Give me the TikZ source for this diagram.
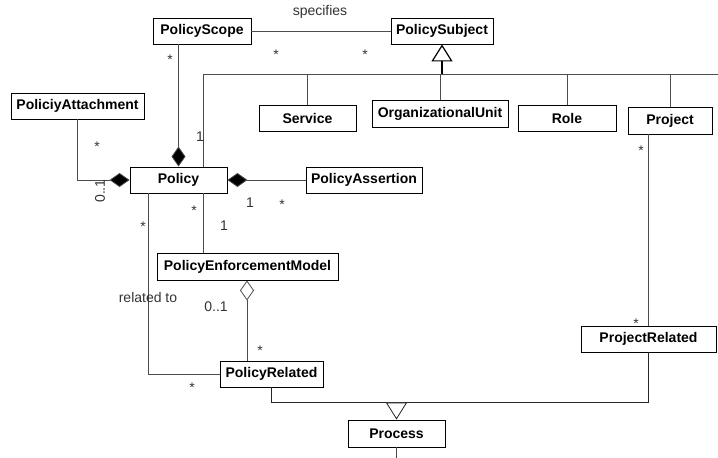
\documentclass[tikz,border=0pt]{standalone}
\usepackage{fontspec}
\setmainfont{Liberation Sans}
\usetikzlibrary{arrows.meta}
\begin{document}
\begin{tikzpicture}[x=1pt,y=-1pt,
  cls/.style={draw=black, line width=0.9pt, rectangle, inner sep=0pt, font=\fontsize{14}{16}\selectfont\bfseries},
  ln/.style={draw=black!70, line width=0.8pt},
  lbl/.style={inner sep=0pt, font=\fontsize{14}{16}\selectfont, text=black!80},
  star/.style={lbl, yshift=-3pt},
  comp/.style={-{Diamond[length=20pt,width=14pt,fill=black]}},
  aggr/.style={{Diamond[open,length=20pt,width=14pt,fill=white]}-},
  gen/.style={-{Triangle[open,length=17pt,width=21pt,fill=white]}}]
\useasboundingbox (0,0) rectangle (718,458);

% classes
\node[cls, minimum width=98pt, minimum height=26pt] (scope) at (202,31) {PolicyScope};
\node[cls, minimum width=102pt, minimum height=26pt] (subject) at (442,31) {PolicySubject};
\node[cls, minimum width=97pt, minimum height=26pt] (service) at (307.5,118) {Service};
\node[cls, minimum width=136pt, minimum height=27pt] (org) at (440,113.5) {OrganizationalUnit};
\node[cls, minimum width=98pt, minimum height=26pt] (role) at (567,118) {Role};
\node[cls, minimum width=84pt, minimum height=27pt] (project) at (670,120.5) {Project};
\node[cls, minimum width=133pt, minimum height=26pt] (attach) at (77.5,106) {PoliciyAttachment};
\node[cls, minimum width=97pt, minimum height=26pt] (policy) at (178.5,180) {Policy};
\node[cls, minimum width=116pt, minimum height=26pt] (assert) at (364,180) {PolicyAssertion};
\node[cls, minimum width=181pt, minimum height=27pt] (pem) at (247.5,266.5) {PolicyEnforcementModel};
\node[cls, minimum width=103pt, minimum height=26pt] (prel) at (271.5,374) {PolicyRelated};
\node[cls, minimum width=135pt, minimum height=26pt] (projrel) at (648.5,339) {ProjectRelated};
\node[cls, minimum width=97pt, minimum height=27pt] (process) at (396.5,433.5) {Process};

% helper coordinates
\coordinate (hub) at (442,74);
\coordinate (busL) at (203,74);
\coordinate (busR) at (718,74);
\coordinate (rel) at (148,297);
\coordinate (join) at (396.5,402);
\coordinate (pend) at (396.5,458);

% PolicyScope -- PolicySubject
\draw[ln] (scope.east) -- (subject.west);
% generalization of PolicySubject
\draw[ln] (busL |- policy.north) -- (busL) -- (busR);
\draw[draw=black, line width=1.2pt, gen] (hub) -- (subject.south);
\draw[ln] (service.north) -- (service.north |- hub);
\draw[ln] (org.north) -- (org.north |- hub);
\draw[ln] (role.north) -- (role.north |- hub);
\draw[ln] (project.north) -- (project.north |- hub);
% compositions
\draw[ln, comp] (scope.south -| policy.north) -- (policy.north);
\draw[ln, comp] (attach.south) |- (policy.west);
\draw[ln, comp] (assert.west) -- (policy.east);
% policy -- PEM
\draw[ln] (busL |- policy.south) -- (busL |- pem.north);
% related to
\draw[ln] (rel |- policy.south) |- (prel.west);
% PEM aggregation
\draw[ln, aggr] (pem.south -| 247,0) -- (prel.north -| 247,0);
% project -- projectrelated
\draw[ln] (project.south -| projrel.north) -- (projrel.north);
% process generalization
\draw[ln, draw=black!85] (prel.south) -- (prel.south |- join) -- (projrel.south |- join) -- (projrel.south);
\draw[ln, draw=black!85, gen] (join) -- (process.north);
\draw[ln] (process.south) -- (pend);

% labels
\node[lbl] (specifies) at (320,12) {specifies};
\node[star] (s1) at (170,57) {*};
\node[star] (s2) at (276,52) {*};
\node[star] (s3) at (365,52) {*};
\node[star] (s4) at (97,144) {*};
\node[lbl] (o1) at (200,137) {1};
\node[lbl, rotate=90] (z1) at (100,191) {0..1};
\node[star] (s5) at (143,224) {*};
\node[star] (s6) at (194,208) {*};
\node[lbl] (o2) at (224,226) {1};
\node[lbl] (o3) at (250,203) {1};
\node[star] (s7) at (282,202) {*};
\node[lbl] (reltext) at (148,297) {related to};
\node[lbl] (z2) at (216,307) {0..1};
\node[star] (s8) at (260,348) {*};
\node[star] (s9) at (192,385) {*};
\node[star] (s10) at (641,148) {*};
\node[star] (s11) at (636,321) {*};
\end{tikzpicture}
\end{document}
